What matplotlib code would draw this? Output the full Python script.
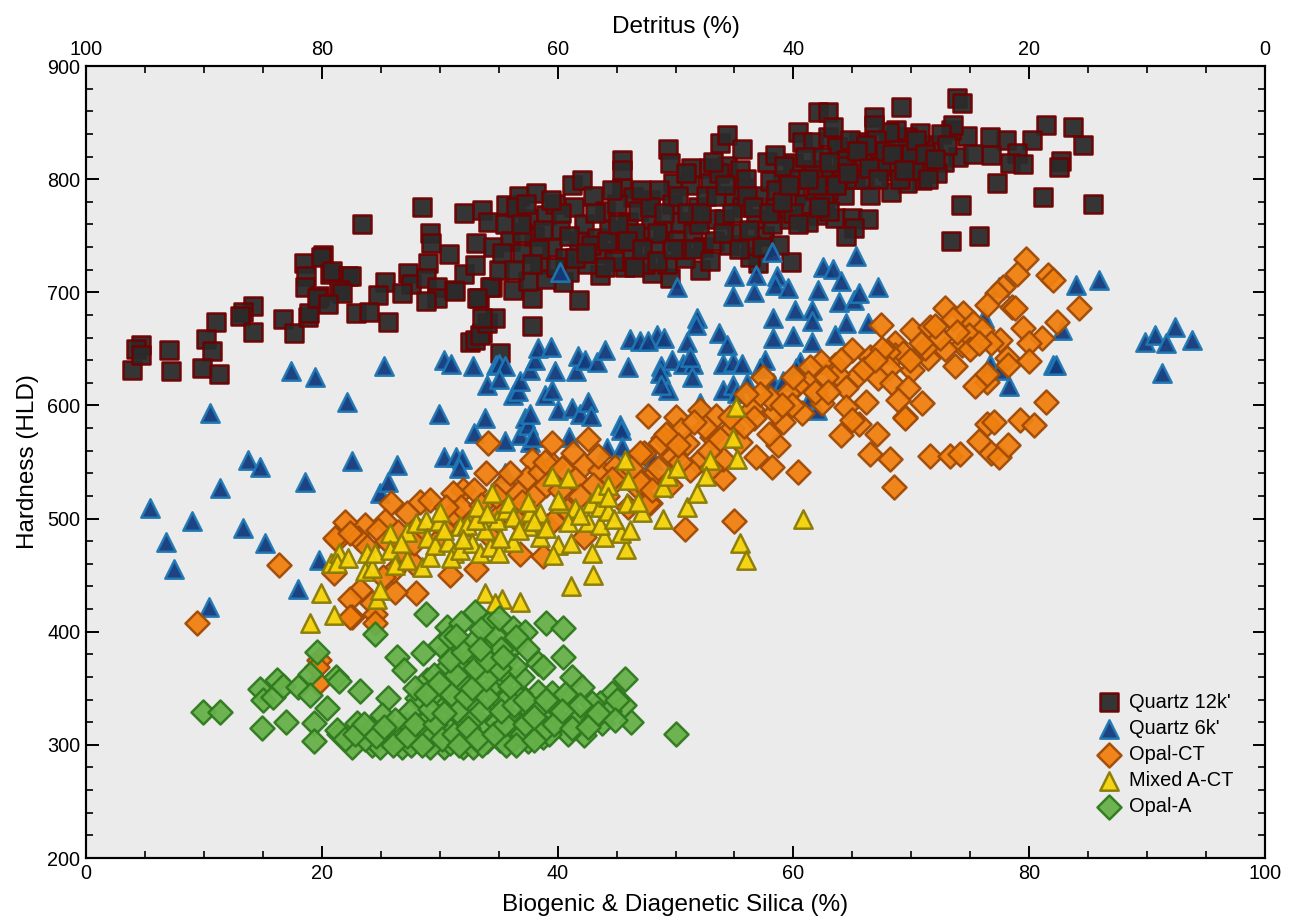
import matplotlib
matplotlib.use('Agg')
import matplotlib.pyplot as plt
from matplotlib.ticker import MultipleLocator

plt.rcParams['font.family'] = ['Liberation Sans', 'DejaVu Sans']

# Values: (silica %, hardness HLD)
quartz_12k = [
    (3.9,631),(4.7,653),(4.2,650),(4.7,645),(7.0,649),(7.2,630),(11.0,674),(10.2,659),(10.7,648),(9.8,633),(11.3,628),
    (14.2,688),(13.3,683),(13.1,679),(14.2,665),(16.7,676),(17.6,664),(18.5,726),(18.7,714),(18.6,705),(20.1,733),(19.9,731),
    (18.8,678),(18.9,682),(20.7,716),(20.9,719),(22.2,714),(22.5,714),(19.8,697),(19.6,695),(21.5,702),(21.7,699),(20.5,690),
    (25.4,709),(24.8,698),(22.9,682),(24.0,683),(25.6,674),(23.4,760),(27.3,717),(27.6,707),(26.8,699),(29.0,726),(28.8,713),
    (29.8,705),(29.8,695),(28.8,692),(31.2,702),(28.5,775),(29.2,752),(29.3,744),(30.8,734),(32.1,716),(33.3,695),(33.0,724),
    (34.4,705),(32.1,770),(33.6,773),(34.1,762),(33.1,744),(33.6,664),(32.6,656),(33.0,658),(33.4,662),(34.0,673),(34.7,677),
    (35.1,646),(33.6,677),(37.8,695),(37.8,670),(41.8,693),
    (35.6,777),(36.7,785),(38.2,788),(41.2,795),(42.1,799),(45.5,792),(45.5,817),(45.5,808),(46.4,784),(47.8,782),(49.4,827),
    (49.5,814),(49.8,797),(51.3,810),(52.8,810),(52.9,797),(53.8,832),(54.4,839),(54.4,812),(55.5,808),(55.6,827),(55.7,792),
    (57.8,815),(58.4,821),(59.1,799),(60.0,814),(60.4,842),(60.7,833),(61.7,833),(61.7,808),(62.1,859),(62.9,859),(62.9,837),
    (63.1,804),(63.4,846),(63.7,828),
    (52.1,720),(59.8,727),(57.0,726),(56.3,731),(49.5,713),(48.0,717),(45.7,722),(43.6,715),(40.5,709),(36.2,702),(34.3,705),
    (33.2,695),(31.3,701),
    (73.9,872),(74.3,867),(69.1,864),(66.8,855),(81.4,848),(83.7,846),(84.6,830),(80.2,835),(78.0,835),(76.7,837),(76.8,821),
    (79.0,823),(78.4,814),(79.5,813),(82.7,816),(82.5,811),(77.3,797),(81.2,784),(85.4,778),(74.2,777),(75.7,750),(73.4,745),
    (74.7,838),(73.4,843),(73.5,848),(74.0,820),(72.8,815),(71.8,830),(72.2,805),(70.9,799),(71.0,812),(70.6,826),(70.7,841),
    (69.6,797),(69.3,817),(69.6,837),(68.7,843),(68.1,842),(68.0,807),(68.3,789),(66.5,786),(64.3,786),(66.7,819),(65.6,833),
    (66.8,848),(65.8,814),(63.7,828),(64.5,817),(62.9,804),(61.7,808),(62.9,790),(62.1,768),(63.5,766),(65.0,766),(66.3,765),
    (65.1,757),(64.5,750),
    # dense middle of the cloud
    (34.5,740),(35.0,720),(35.5,760),(36.0,745),(36.5,775),(37.0,735),(37.5,710),(37.5,765),(38.0,750),(38.5,725),(39.0,768),
    (39.5,740),(39.0,712),(39.8,778),(40.2,755),(40.6,730),(41.0,718),(41.4,775),(41.8,745),(42.2,760),(42.5,725),(43.0,785),
    (43.3,748),(43.8,735),(44.0,772),(44.4,755),(44.8,728),(45.0,778),(45.4,745),(46.0,762),(46.3,735),(46.8,772),(47.0,750),
    (47.4,725),(47.9,765),(48.2,740),(48.6,790),(48.9,755),(49.3,725),(49.7,778),(50.1,745),(50.4,762),(50.8,730),(51.2,795),
    (51.5,752),(51.9,775),(52.3,740),(52.6,785),(53.0,765),(53.3,745),(53.7,805),(54.1,765),(54.5,742),(54.9,785),(55.2,752),
    (55.6,775),(56.0,800),(56.4,742),(56.8,765),(57.2,785),(57.5,750),(58.0,798),(58.4,775),(58.8,742),(59.2,812),(59.6,765),
    (60.1,785),(60.5,800),(60.9,778),(61.2,762),(61.8,790),(62.3,820),(62.6,780),(63.0,772),(64.0,800),(64.8,835),(65.2,800),
    (66.0,800),(67.0,835),(67.4,812),(67.8,825),(69.0,800),(70.2,808),(71.4,800),(72.5,840),(73.0,830),(75.2,822),
    (37.0,752),(38.4,738),(41.0,750),(42.8,742),(44.2,745),(46.6,752),(48.4,752),(50.5,738),(52.0,760),(54.0,752),(56.2,755),
    (58.2,760),(60.0,770),(61.0,820),(62.0,795),(64.2,812),(66.2,830),(68.9,826),(70.0,822),
    (35.3,735),(36.3,720),(36.9,760),(37.8,725),(38.8,755),(39.9,722),(40.3,770),(41.5,730),(42.4,735),(43.2,770),(44.0,722),
    (45.1,760),(45.9,745),(46.5,722),(47.2,738),(47.8,775),(48.4,728),(49.0,770),(49.8,738),(50.2,785),(51.0,770),(51.6,738),
    (52.2,770),(52.9,728),(53.4,785),(54.2,795),(54.8,770),(55.4,738),(56.1,785),(56.6,775),(57.3,740),(57.9,770),(58.5,790),
    (59.0,780),(59.6,795),(60.4,760),(61.2,800),(62.2,775),(63.0,815),(63.6,795),(64.6,805),(65.4,825),(66.4,810),(67.2,800),
    (68.4,822),(69.4,808),(70.4,835),(71.2,822),(72.0,818),(37.3,778),(39.4,782),(44.6,790),(47.1,790),(50.9,805),(53.2,815),
]

quartz_6k = [
    (5.4,509),(6.8,479),(7.5,455),(9.0,498),(10.4,422),(10.5,593),(11.4,527),(13.3,492),(13.7,552),(14.8,546),(15.2,478),
    (17.4,630),(18.6,532),(19.4,625),(19.8,463),(18.0,438),(22.1,603),(22.6,551),(25.3,635),(24.9,523),(25.6,532),(26.4,547),
    (29.9,592),(30.4,640),(31.0,637),(30.4,554),(31.4,554),(31.9,553),(31.6,545),(32.8,635),(32.9,576),(33.8,589),(34.0,618),
    (34.8,636),(35.0,637),(35.5,635),(35.0,623),(35.5,569),(36.2,609),(36.6,613),(36.8,622),(36.8,574),(37.2,589),(37.5,583),
    (37.7,592),(37.7,631),(37.7,568),(37.9,572),(38.1,640),(38.3,651),(39.4,652),(38.9,609),(39.5,614),(39.8,630),(40.0,596),
    (41.0,572),(41.2,598),(41.6,630),(41.7,644),(42.3,640),(41.9,592),(42.6,603),(42.8,591),(43.3,638),(44.0,649),(45.3,583),
    (46.0,634),(46.1,659),(47.0,657),(45.4,578),(44.2,562),(45.5,563),(48.1,552),(35.5,540),(40.2,718),(50.1,705),(58.2,736),
    (55.0,714),(56.8,715),(54.9,697),(56.7,700),(58.6,714),(58.4,706),(59.5,704),(62.5,722),(63.4,721),(65.3,732),(62.1,702),
    (64.0,710),(63.9,691),(65.1,693),(65.6,699),(67.2,705),(60.1,684),(61.6,684),(61.6,675),(58.3,677),(64.5,673),(66.3,673),
    (60.0,661),(58.3,660),(61.6,656),(63.5,662),(51.8,677),(51.7,671),(48.4,662),(47.7,657),(49.0,660),(51.0,656),(53.7,664),
    (54.4,653),(48.8,635),(48.7,629),(49.7,640),(50.6,637),(51.5,637),(51.2,643),(51.4,625),(49.4,614),(48.8,618),(54.0,637),
    (54.9,638),(55.6,637),(57.6,640),(57.2,633),(60.6,638),(60.2,633),(54.0,614),(54.9,618),(55.2,611),(56.1,620),(58.3,620),
    (59.1,622),(52.1,602),(77.4,705),(76.2,677),(82.8,667),(82.0,636),(82.3,636),(78.3,617),(76.7,637),(77.4,631),(84.0,706),
    (85.9,711),(62.0,596),(61.4,607),(89.8,656),(90.7,662),(92.4,669),(91.6,655),(93.8,658),(91.3,629),
]

opal_ct = [
    (79.7,729),(79.0,716),(81.6,715),(82.0,711),(84.2,686),(82.4,674),(77.8,705),(77.3,699),(76.4,689),(78.5,687),(78.8,686),
    (72.9,686),(74.4,682),(73.5,676),(75.2,673),(76.0,667),(70.1,667),(71.6,669),(67.4,671),(79.5,668),(81.1,660),(80.0,655),
    (77.5,658),(78.1,642),(80.0,639),(76.8,655),(74.3,653),(72.9,650),(72.4,660),(73.7,635),(71.4,642),(71.2,651),(68.6,655),
    (68.6,645),(69.3,646),(70.1,631),(68.0,647),(66.5,643),(68.1,633),(65.0,649),(65.5,627),(63.5,636),(62.3,638),(61.4,634),
    (61.2,620),(60.3,618),(63.7,628),(64.5,615),(67.2,624),(68.4,620),(69.7,615),(66.2,603),(70.9,602),(68.9,605),(69.5,590),
    (69.5,589),(64.5,599),(62.4,602),(60.7,593),(59.1,585),(58.4,594),(59.5,611),(58.0,607),(57.4,625),(56.5,597),(56.7,589),
    (58.7,565),(60.4,541),(58.2,546),(56.8,554),(54.0,536),(55.0,498),(65.6,584),(65.0,587),(64.0,574),(67.1,575),(66.5,557),
    (68.2,553),(68.5,528),(71.6,555),(73.3,555),(74.1,557),(75.7,569),(76.8,558),(77.4,554),(78.2,565),(76.4,584),(77.0,585),
    (79.2,587),(80.4,583),(81.4,603),(76.4,621),(75.4,617),(76.4,628),(78.2,636),
    (47.7,591),(50.0,590),(52.1,596),(53.4,591),(53.1,572),(52.5,581),(51.0,567),(50.5,578),(48.9,571),(48.7,567),(49.8,555),
    (47.3,558),(51.9,550),(54.0,553),(54.8,580),(55.5,568),(51.2,543),(47.8,536),(47.2,532),(47.8,514),(50.8,491),
    (34.1,567),(39.5,567),(42.6,570),(47.0,558),(37.8,552),(41.3,558),(42.2,547),(39.6,547),(43.6,543),(44.9,546),(33.9,540),
    (37.4,536),(38.5,541),(35.4,530),(36.6,523),(32.0,525),(31.1,523),(32.9,525),(28.3,515),(29.2,516),(25.9,514),(27.2,505),
    (25.4,498),(23.7,494),(22.0,497),(21.3,481),(21.1,483),(23.1,483),(31.1,505),(30.3,492),(34.3,484),(36.8,469),(38.8,467),
    (39.1,493),(47.7,514),(46.7,528),(47.0,532),(43.6,516),(44.7,531),(42.2,484),(40.8,508),(39.6,498),(21.0,452),(30.9,450),
    (33.1,455),(28.0,434),(26.2,435),(23.2,437),(22.4,429),(24.3,425),(22.6,413),(24.5,416),(24.5,408),(27.7,461),(26.0,454),
    (25.2,448),(26.6,472),(23.8,475),(22.4,487),(9.4,408),(16.4,459),(19.8,375),(19.7,355),(19.6,369),(22.4,413),
    # inside the band, mostly under the yellow triangles
    (24.8,490),(26.5,488),(28.2,490),(29.6,478),(31.8,510),(33.5,512),(35.2,505),(36.5,500),(38.0,520),(39.0,530),(40.2,525),
    (41.5,535),(43.0,530),(44.2,520),(45.5,540),(46.0,510),(48.5,545),(49.5,530),(50.4,550),(52.8,560),(53.8,570),(55.8,582),
    (57.2,610),(59.9,600),(61.8,612),(62.8,625),(64.0,640),(66.0,632),(67.5,650),(69.9,640),(72.0,670),(74.9,662),(75.0,650),
    (25.5,480),(27.8,478),(30.5,510),(32.5,495),(34.8,520),(36.0,540),(37.0,515),(38.9,550),(40.4,545),(41.9,520),(43.4,555),
    (44.6,535),(46.2,545),(48.0,525),(49.2,575),(50.2,565),(51.6,585),(53.0,545),(54.6,590),(56.0,610),(57.9,575),(59.0,600),
    (60.0,625),(62.9,612),(66.9,640),(70.8,655),(73.9,665),(75.7,655),
]

mixed_act = [
    (19.9,434),(21.0,415),(19.0,408),(24.7,429),(24.9,437),(20.8,461),(21.5,470),(21.3,461),(22.2,465),(23.7,454),(24.3,456),
    (23.8,470),(24.5,470),(25.8,487),(25.8,472),(26.2,459),(27.2,488),(27.2,463),(28.5,457),(29.2,466),(28.0,496),(28.8,499),
    (28.9,483),(29.9,498),(30.0,506),(29.6,477),(30.7,479),(31.2,470),(31.0,465),(31.7,472),(31.7,493),(32.3,494),(32.7,478),
    (33.4,470),(34.3,475),(35.0,470),(36.2,479),(35.1,483),(33.8,490),(33.1,499),(34.9,499),(33.2,510),(34.4,523),(35.6,508),
    (35.8,514),(36.2,501),(37.5,493),(38.5,484),(37.7,506),(37.5,515),(38.5,505),(39.5,538),(40.9,536),(40.2,514),(40.0,516),
    (41.5,509),(40.9,497),(40.0,477),(39.6,468),(41.1,478),(42.9,470),(43.0,450),(41.1,440),(45.8,473),(45.4,487),(46.1,490),
    (43.9,484),(42.6,497),(43.6,494),(42.8,514),(43.6,510),(44.3,507),(43.4,523),(44.3,530),(44.3,519),(46.0,534),(45.7,552),
    (45.9,514),(47.2,506),(48.9,500),(48.9,528),(49.4,538),(50.1,545),(51.0,510),(51.8,523),(60.8,500),(55.1,599),(54.9,571),
    (52.9,552),(55.2,553),(52.6,538),(55.5,478),(56.0,463),(33.8,434),(35.3,429),(34.7,425),(36.8,426),
    (26.7,478),(30.4,490),(32.0,482),(34.0,505),(36.7,490),(38.0,498),(39.0,492),(41.9,503),(44.8,500),(46.8,515),
]

opal_a = [
    (9.9,329),(11.4,329),(14.9,315),(17.0,320),(14.8,349),(15.0,340),(15.9,342),(16.2,357),(16.7,352),(18.0,351),(19.6,382),
    (19.0,363),(19.0,344),(20.4,333),(19.3,319),(19.3,303),(21.2,360),(21.5,356),(23.2,348),(24.5,398),(26.4,378),(27.0,366),
    (25.6,341),(28.8,416),(28.6,381),(30.6,404),(33.0,417),(34.1,407),(36.2,403),(37.2,400),(39.0,408),(40.5,403),(36.2,387),
    (40.5,378),(38.3,372),(38.8,369),(45.7,358),(50.0,310),(46.2,320),(45.6,335),(44.6,346),(43.8,319),(43.6,337),(42.9,337),
    (41.2,360),(42.1,351),(41.0,341),(39.5,346),(38.3,347),(42.2,322),(42.2,309),(40.9,310),(40.2,322),(38.9,322),(38.3,311),
    (37.7,331),(36.6,318),(37.5,303),(35.8,326),(34.7,335),(35.1,351),(34.4,364),(35.8,362),(33.2,377),(34.1,393),(31.9,387),
    (30.7,384),(30.0,388),(33.2,348),(31.1,354),(30.5,368),(32.3,373),(28.1,341),(30.2,338),(28.9,357),(28.9,322),(27.1,318),
    (29.8,311),(32.3,308),(30.4,298),(29.2,298),(32.0,298),(32.8,298),(24.3,300),(22.6,298),(21.5,310),(21.3,313),(23.0,319),
    (24.3,315),(25.1,326),(26.4,307),(24.9,298),(26.8,298),(28.0,304),(35.1,304),(36.2,304),(38.8,307),
    # dense lower part of the cloud
    (27.5,330),(28.4,312),(29.4,345),(29.9,325),(30.8,315),(31.3,340),(31.8,325),(32.6,360),(33.0,335),(33.6,318),(34.0,303),
    (34.3,350),(34.9,320),(35.4,338),(35.6,375),(36.0,312),(36.8,345),(37.0,360),(37.9,318),(38.6,335),(39.3,310),(39.8,335),
    (40.6,345),(41.4,325),(41.9,335),(43.0,322),(44.4,330),(45.0,340),(29.5,362),(30.4,350),(31.5,372),(32.0,355),(32.9,392),
    (33.7,380),(34.8,395),(35.2,385),(36.4,370),(37.4,385),(25.9,312),(27.6,300),(29.0,305),(30.9,302),(33.6,300),(35.6,300),
    (37.0,310),(22.0,305),(23.7,305),(31.5,330),(32.7,322),(26.2,322),(27.9,350),(30.9,395),(31.8,408),(33.5,402),(35.0,412),
    (22.8,310),(23.6,318),(24.6,308),(25.3,316),(26.0,300),(27.2,308),(27.9,318),(28.5,300),(29.6,318),(30.2,305),(31.2,310),
    (31.6,300),(32.4,315),(33.2,305),(34.6,310),(35.5,318),(36.5,300),(37.2,318),(38.0,304),(39.0,315),(39.7,318),(40.4,330),
    (41.2,315),(42.6,316),(43.4,328),(44.9,322),(29.2,332),(30.4,328),(31.0,345),(32.2,342),(33.5,330),(34.0,342),(35.2,330),
    (36.3,335),(37.2,340),(38.0,325),(39.0,340),(28.8,345),(29.9,355),(31.4,362),(32.7,350),(33.9,358),(35.0,368),(36.0,352),
    (30.9,375),(32.0,382),(33.0,368),(34.0,375),(35.4,378),(31.4,396),(33.4,385),(36.5,395),
]

series = [
    (quartz_12k, 's', '#2b2b2b', '#6e0000', "Quartz 12k'"),
    (quartz_6k, '^', '#123a7c', '#1f78b4', "Quartz 6k'"),
    (opal_ct, 'D', '#f08010', '#a04a05', 'Opal-CT'),
    (mixed_act, '^', '#f5d40a', '#8a7a05', 'Mixed A-CT'),
    (opal_a, 'D', '#66b04a', '#2f7a1e', 'Opal-A'),
]

fig, ax = plt.subplots(figsize=(12.9, 9.18), dpi=100)
fig.subplots_adjust(left=86/1290, right=1265/1290, bottom=60/918, top=852/918)
ax.set_facecolor('#ebebeb')

for pts, marker, fc, ec, label in series:
    xs = [p[0] for p in pts]
    ys = [p[1] for p in pts]
    size = 175 if marker == '^' else 150
    ax.scatter(xs, ys, s=size, marker=marker, facecolor=fc, edgecolor=ec,
               linewidth=1.8, alpha=0.95, label=label)

ax.set_xlim(0, 100)
ax.set_ylim(200, 900)
ax.xaxis.set_major_locator(MultipleLocator(20))
ax.xaxis.set_minor_locator(MultipleLocator(5))
ax.yaxis.set_major_locator(MultipleLocator(100))
ax.yaxis.set_minor_locator(MultipleLocator(20))
ax.set_xlabel('Biogenic & Diagenetic Silica (%)', fontsize=17.5, labelpad=8.5)
ax.set_ylabel('Hardness (HLD)', fontsize=17.5, labelpad=6)

# second x axis runs the other way
ax2 = ax.twiny()
ax2.set_xlim(100, 0)
ax2.xaxis.set_major_locator(MultipleLocator(20))
ax2.xaxis.set_minor_locator(MultipleLocator(5))
ax2.set_xlabel('Detritus (%)', fontsize=17.5, labelpad=5)

ax.tick_params(which='major', direction='in', length=9, width=1.4, labelsize=14.3, right=True, pad=4)
ax.tick_params(which='minor', direction='in', length=5, width=1.2, right=True)
ax2.tick_params(which='major', direction='in', length=9, width=1.4, labelsize=14.3, pad=5)
ax2.tick_params(which='minor', direction='in', length=5, width=1.2)
for a in (ax, ax2):
    for sp in a.spines.values():
        sp.set_linewidth(1.5)

ax.legend(loc='lower right', bbox_to_anchor=(0.973, 0.0525), frameon=False, fontsize=14.4,
          labelspacing=0.36, handletextpad=0.0, borderpad=0, borderaxespad=0, markerscale=1)

plt.savefig('out.png', dpi=100)
